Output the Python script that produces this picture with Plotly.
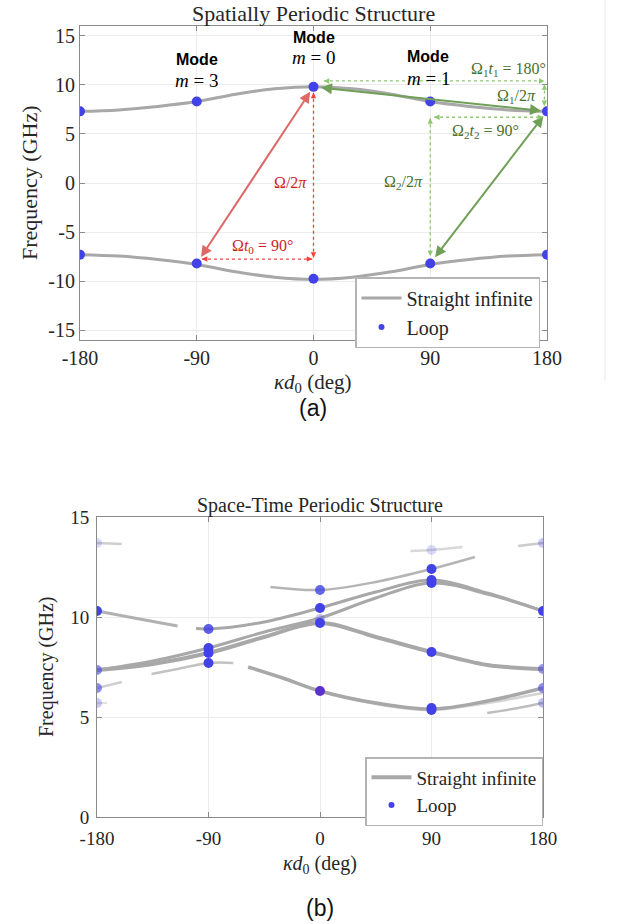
import plotly.graph_objects as go

# ---------------- data ----------------
kd_ticks = [-180, -90, 0, 90, 180]
kd_ticktext = ["-180", "-90", "0", "90", "180"]
fa_ticks = [-15, -10, -5, 0, 5, 10, 15]
fa_ticktext = ["-15", "-10", "-5", "0", "5", "10", "15"]
fb_ticks = [0, 5, 10, 15]
fb_ticktext = ["0", "5", "10", "15"]

# (a) dispersion of the straight infinite line (upper band; lower band is mirrored)
band_k = [-180, -150, -120, -90, -60, -30, 0, 30, 60, 90, 120, 150, 180]
band_f = [7.30, 7.45, 7.80, 8.30, 9.05, 9.60, 9.82, 9.60, 9.05, 8.30, 7.80, 7.45, 7.30]

# (a) loop eigenfrequencies
loop_k = [-180, -90, 0, 90, 180, -180, -90, 0, 90, 180]
loop_f = [7.3, 8.3, 9.8, 8.3, 7.3, -7.3, -8.2, -9.75, -8.2, -7.3]

# (b) straight infinite line, space-time harmonics
st_base_k = [-180, -135, -90, -45, 0, 45, 90, 135, 180]
st_base_f = [7.35, 7.65, 8.2, 9.0, 9.7, 9.0, 8.25, 7.6, 7.4]
st_b_k = [-180, -135, -90, -45, 0, 45, 90, 135, 180]
st_b_f = [7.35, 7.8, 8.45, 9.25, 9.95, 10.95, 11.7, 11.15, 10.3]
st_c1_k = [-180, -150, -115]
st_c1_f = [10.3, 9.95, 9.55]
st_c2_k = [-100, -90, -45, 0, 45, 90, 135, 180]
st_c2_f = [9.42, 9.4, 9.75, 10.45, 11.25, 11.85, 11.2, 10.3]
st_d_k = [-40, 0, 45, 90, 125]
st_d_f = [11.5, 11.35, 11.75, 12.4, 13.0]
st_e1_k = [-136, -115, -90, -70]
st_e1_f = [7.15, 7.4, 7.7, 7.7]
st_e2_k = [-58, -30, 0, 45, 90, 135, 180]
st_e2_f = [7.5, 6.95, 6.3, 5.7, 5.4, 5.8, 6.45]
st_e3_k = [0, 45, 90, 135, 180]
st_e3_f = [6.3, 5.65, 5.35, 5.7, 6.2]
st_g_k = [135, 160, 180]
st_g_f = [5.2, 5.45, 5.7]
st_h_k = [-180, -160]
st_h_f = [6.45, 6.75]
st_i_k = [-180, -160]
st_i_f = [13.7, 13.65]
st_j_k = [73, 90, 115]
st_j_f = [13.3, 13.35, 13.5]
st_l_k = [160, 180]
st_l_f = [13.55, 13.7]
st_m_k = [-180, -172]
st_m_f = [5.7, 5.7]

# (b) loop eigenfrequencies and their visibility
loopb_k = [-180, -180, -180, -180, -180,
           -90, -90, -90, -90,
           0, 0, 0, 0, 0,
           90, 90, 90, 90, 90, 90, 90,
           180, 180, 180, 180, 180]
loopb_f = [10.3, 13.7, 7.35, 6.45, 5.7,
           9.4, 8.45, 8.2, 7.7,
           11.35, 10.45, 9.9, 9.7, 6.3,
           13.35, 12.4, 11.85, 11.7, 8.25, 5.45, 5.35,
           10.3, 13.7, 7.4, 6.45, 5.7]
loopb_alpha = [1.0, 0.2, 0.6, 0.6, 0.3,
               0.85, 1.0, 1.0, 1.0,
               0.8, 1.0, 0.3, 1.0, 1.0,
               0.2, 1.0, 1.0, 1.0, 1.0, 1.0, 1.0,
               1.0, 0.3, 0.55, 0.6, 0.35]

# ---------------- styles ----------------
SERIF = "Liberation Serif"
SANS = "Liberation Sans"
GRAY = "rgb(168,168,168)"
BLUE = "rgb(66,66,230)"
TXT = "#262626"
RED_SOLID = "rgb(222,104,104)"
RED_DOT = "rgb(255,60,60)"
RED_TXT = "rgb(205,30,30)"
GRN_SOLID = "rgb(112,160,88)"
GRN_DOT = "rgb(140,200,110)"
GRN_TXT = "rgb(72,112,42)"

W, H = 619, 924

fig = go.Figure()

# ---------- panel (a) ----------
fig.add_trace(go.Scatter(x=band_k, y=band_f, mode="lines", name="Straight infinite",
                         line=dict(color=GRAY, width=3, shape="spline"),
                         xaxis="x", yaxis="y", legend="legend"))
fig.add_trace(go.Scatter(x=band_k, y=[-v for v in band_f], mode="lines", showlegend=False,
                         line=dict(color=GRAY, width=3, shape="spline"),
                         xaxis="x", yaxis="y"))
fig.add_trace(go.Scatter(x=loop_k, y=loop_f, mode="markers", name="Loop", showlegend=False,
                         marker=dict(color=BLUE, size=10),
                         xaxis="x", yaxis="y"))
# legend entry with a small dot
fig.add_trace(go.Scatter(x=[None], y=[None], mode="markers", name="Loop",
                         marker=dict(color=BLUE, size=6),
                         xaxis="x", yaxis="y", legend="legend"))

# ---------- panel (b) ----------
def st_line(k, f, alpha=1.0, width=3.0, legend=False):
    fig.add_trace(go.Scatter(x=k, y=f, mode="lines", name="Straight infinite",
                             showlegend=legend,
                             line=dict(color=f"rgba(168,168,168,{alpha})", width=width,
                                       shape="spline"),
                             xaxis="x2", yaxis="y2", legend="legend2"))

st_line(st_base_k, st_base_f, 1.0, 4.0, legend=True)
st_line(st_b_k, st_b_f, 1.0, 3.0)
st_line(st_c1_k, st_c1_f, 0.9, 3.0)
st_line(st_c2_k, st_c2_f, 1.0, 3.0)
st_line(st_d_k, st_d_f, 0.85, 2.5)
st_line(st_e1_k, st_e1_f, 0.7, 2.5)
st_line(st_e2_k, st_e2_f, 1.0, 3.5)
st_line(st_e3_k, st_e3_f, 0.5, 2.5)
st_line(st_g_k, st_g_f, 0.75, 2.5)
st_line(st_h_k, st_h_f, 0.55, 2.5)
st_line(st_i_k, st_i_f, 0.55, 2.5)
st_line(st_j_k, st_j_f, 0.45, 2.5)
st_line(st_l_k, st_l_f, 0.6, 2.5)
st_line(st_m_k, st_m_f, 0.35, 2.0)

loopb_colors = []
for (kk, ff, a) in zip(loopb_k, loopb_f, loopb_alpha):
    if kk == 0 and abs(ff - 6.3) < 1e-9:
        loopb_colors.append("rgba(92,48,205,1)")
    else:
        loopb_colors.append(f"rgba(66,66,230,{a})")
fig.add_trace(go.Scatter(x=loopb_k, y=loopb_f, mode="markers", name="Loop", showlegend=False,
                         marker=dict(color=loopb_colors, size=10),
                         xaxis="x2", yaxis="y2"))
fig.add_trace(go.Scatter(x=[None], y=[None], mode="markers", name="Loop",
                         marker=dict(color=BLUE, size=6),
                         xaxis="x2", yaxis="y2", legend="legend2"))

# ---------- annotations: arrows and labels in (a) ----------
ann = []
shapes = []

def solid_arrow(x0, y0, x1, y1, color):
    ann.append(dict(x=x1, y=y1, ax=x0, ay=y0, xref="x", yref="y", axref="x", ayref="y",
                    text="", showarrow=True, arrowhead=2, arrowsize=1.1, arrowwidth=2,
                    arrowcolor=color, arrowside="end+start", startarrowhead=2,
                    startarrowsize=1.1, standoff=6, startstandoff=6))

def head(x, y, dx, dy, color):
    ann.append(dict(x=x, y=y, ax=dx, ay=dy, xref="x", yref="y",
                    text="", showarrow=True, arrowhead=2, arrowsize=0.9, arrowwidth=1.2,
                    arrowcolor=color))

def dotted(x0, y0, x1, y1, color):
    shapes.append(dict(type="line", xref="x", yref="y", x0=x0, y0=y0, x1=x1, y1=y1,
                       line=dict(color=color, width=1.3, dash="dot")))
    if y0 == y1:  # horizontal
        head(x0, y0, 6, 0, color)
        head(x1, y1, -6, 0, color)
    else:         # vertical, y0 above y1
        head(x0, y0, 0, 6, color)
        head(x1, y1, 0, -6, color)

def label(x, y, text, color, size=16, family=SERIF, ref=("x", "y")):
    ann.append(dict(x=x, y=y, xref=ref[0], yref=ref[1], text=text, showarrow=False,
                    font=dict(family=family, size=size, color=color)))

# red: spatial modulation
solid_arrow(-90, -8.2, 0, 9.8, RED_SOLID)
dotted(0, 9.2, 0, -7.6, RED_DOT)
dotted(-86, -7.75, -1, -7.75, RED_DOT)
label(-18, 0.1, "Ω/2<i>π</i>", RED_TXT)
label(-39, -6.5, "Ω<i>t</i><sub>0</sub> = 90°", RED_TXT)

# green: two-step modulation
solid_arrow(0, 9.8, 180, 7.3, GRN_SOLID)
solid_arrow(90, -8.2, 180, 7.3, GRN_SOLID)
dotted(8, 10.4, 178, 10.4, GRN_DOT)
dotted(178, 10.05, 178, 7.85, GRN_DOT)
dotted(93, 6.7, 177, 6.7, GRN_DOT)
dotted(90, 6.6, 90, -7.45, GRN_DOT)
label(150, 11.6, "Ω<sub>1</sub><i>t</i><sub>1</sub> = 180°", GRN_TXT)
label(156.5, 8.8, "Ω<sub>1</sub>/2<i>π</i>", GRN_TXT)
label(132.6, 5.2, "Ω<sub>2</sub><i>t</i><sub>2</sub> = 90°", GRN_TXT)
label(69, 0.1, "Ω<sub>2</sub>/2<i>π</i>", GRN_TXT)

# mode labels
for (mx, my_mode, my_m, m) in [(-90, 12.55, 10.4, 3), (0, 14.8, 12.75, 0),
                                (88.6, 12.85, 10.7, 1), (207, 8.45, 6.2, 2)]:
    label(mx, my_mode, "<b>Mode</b>", "black", size=16, family=SANS)
    label(mx, my_m, f"<i>m</i> = {m}", "black", size=19, family=SERIF)

# titles, axis titles, panel tags (pixel positions converted to paper coords)
def ptext(px, py, text, size, family=SERIF, angle=0, color=TXT):
    ann.append(dict(x=px / W, y=1 - py / H, xref="paper", yref="paper", text=text,
                    showarrow=False, textangle=angle, xanchor="center", yanchor="middle",
                    font=dict(family=family, size=size, color=color)))

ptext(313, 13, "Spatially Periodic Structure", 22)
ptext(313, 383, "<i>κd</i><sub>0</sub> (deg)", 21)
ptext(30, 183, "Frequency (GHz)", 22, angle=-90)
ptext(313, 408, "(a)", 23, family=SANS, color="#111111")

ptext(320, 505, "Space-Time Periodic Structure", 20)
ptext(320, 864, "<i>κd</i><sub>0</sub> (deg)", 20)
ptext(46, 667, "Frequency (GHz)", 20, angle=-90)
ptext(320, 908, "(b)", 23, family=SANS, color="#111111")

# thin frame edge at the right of the upper figure
shapes.append(dict(type="line", xref="paper", yref="paper", x0=605 / W, x1=605 / W,
                   y0=1 - 380 / H, y1=1.0, line=dict(color="#e8e8e8", width=1)))

axis_common = dict(showgrid=True, gridcolor="#ececec", gridwidth=1, zeroline=False,
                   showline=True, linecolor="#8a8a8a", linewidth=1, mirror="ticks",
                   ticks="inside", ticklen=5, tickcolor="#8a8a8a", automargin=False,
                   tickfont=dict(family=SERIF, size=20, color=TXT))

fig.update_layout(
    width=W, height=H, margin=dict(l=0, r=0, t=0, b=0, autoexpand=False),
    paper_bgcolor="white", plot_bgcolor="white",
    xaxis=dict(axis_common, domain=[80 / W, 547 / W], range=[-180, 180],
               tickvals=kd_ticks, ticktext=kd_ticktext, anchor="y"),
    yaxis=dict(axis_common, domain=[1 - 340 / H, 1 - 26 / H], range=[-16, 16],
               tickvals=fa_ticks, ticktext=fa_ticktext, anchor="x"),
    xaxis2=dict(axis_common, domain=[97 / W, 543 / W], range=[-180, 180],
                tickvals=kd_ticks, ticktext=kd_ticktext, anchor="y2",
                ticklabelstandoff=4,
                tickfont=dict(family=SERIF, size=19, color=TXT)),
    yaxis2=dict(axis_common, domain=[1 - 817 / H, 1 - 517 / H], range=[0, 15],
                tickvals=fb_ticks, ticktext=fb_ticktext, anchor="x2",
                ticklabelstandoff=3,
                tickfont=dict(family=SERIF, size=19, color=TXT)),
    legend=dict(x=540 / W, xanchor="right", y=1 - 277 / H, yanchor="top",
                bgcolor="white", bordercolor="#b4b4b4", borderwidth=1.5,
                font=dict(family=SERIF, size=20, color=TXT), tracegroupgap=0,
                itemwidth=40),
    legend2=dict(x=543 / W, xanchor="right", y=1 - 757 / H, yanchor="top",
                 bgcolor="white", bordercolor="#b4b4b4", borderwidth=1.5,
                 font=dict(family=SERIF, size=19, color=TXT), tracegroupgap=0,
                 itemwidth=40),
    annotations=ann, shapes=shapes,
)

fig.write_html("out.html")
